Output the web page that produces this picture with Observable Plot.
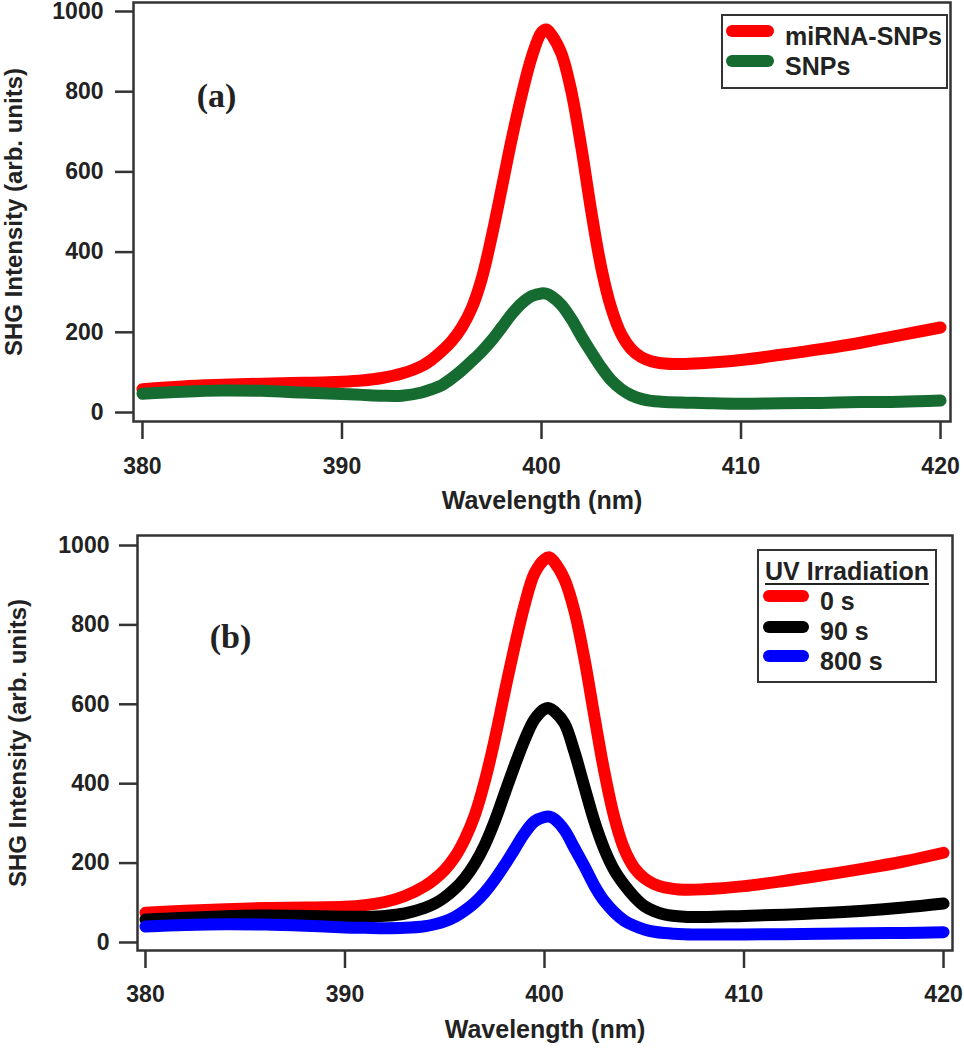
<!DOCTYPE html>
<html><head><meta charset="utf-8">
<script src="https://cdn.jsdelivr.net/npm/d3@7"></script>
<script src="https://cdn.jsdelivr.net/npm/@observablehq/plot@0.6"></script>
<style>
body{margin:0;background:#fff;}
#wrap{position:relative;width:964px;height:1050px;font-family:"Liberation Sans",Arial,sans-serif;color:#222;}
#wrap svg{display:block}
.box{position:absolute;border:2px solid #333;background:#fff;box-sizing:border-box;}
.sw{position:absolute;height:12px;border-radius:6px;}
.lt{position:absolute;font-weight:bold;line-height:1;white-space:nowrap;}
</style></head><body><div id="wrap"></div>
<script>
// shared wavelength grid (nm)
const wavelength = [380,382,384,386,388,390,391,392,393,394,394.5,395,395.5,396,396.5,397,397.5,398,398.5,399,399.5,400,400.25,400.5,401,401.5,402,402.5,403,403.5,404,404.5,405,405.5,406,407,408,410,412,414,416,418,420];
// panel (a)
const miRNA_SNPs = [58,65,69,72,74,77,80,86,97,116,132,153,178,212,260,333,438,558,680,790,885,948,955,942,895,800,660,500,360,260,195,158,138,128,123,121,123,131,144,158,174,193,212];
const SNPs = [47,52,55,54,50,46,44,42,42,50,58,68,85,105,128,152,180,212,245,272,290,297,296,290,268,233,190,150,112,80,58,43,34,29,27,25,24,22,23,24,26,27,30];
// panel (b) UV irradiation
const uv_0s = [75,80,84,87,88,90,94,102,117,142,160,183,215,260,320,405,510,630,745,850,930,965,970,958,915,835,715,570,430,315,235,188,162,147,139,133,134,142,155,170,186,204,226];
const uv_90s = [58,62,66,68,67,65,65,67,73,87,98,114,135,162,198,245,305,375,445,510,562,588,590,582,552,480,392,305,235,182,145,115,92,79,71,65,64,67,70,74,80,88,98];
const uv_800s = [40,44,46,45,42,38,37,36,37,41,46,53,64,80,100,126,158,195,235,275,305,316,317,311,283,238,192,143,104,76,55,42,33,27,24,21,20,20,21,22,23,24,26];

const xTicks = [380,390,400,410,420];
const yTicks = [0,200,400,600,800,1000];
const xLabel = "Wavelength (nm)";
const yLabel = "SHG Intensity (arb. units)";

const toRows = vals => wavelength.map((w,i)=>({w, v: vals[i]}));

function panel({series, xdom, ydom, m, height, tag, tagDx, tagDy, yPad, xPad}) {
  const lines = series.map(s => Plot.line(toRows(s.values), {x:"w", y:"v", stroke:s.color, strokeWidth:12, curve:"catmull-rom", strokeLinecap:"round", strokeLinejoin:"round"}));
  return Plot.plot({
    width: 964, height,
    marginTop: m[0], marginRight: m[1], marginBottom: m[2], marginLeft: m[3],
    style: {fontFamily: "Liberation Sans, Arial, sans-serif", fontSize: "23px", fontWeight: "bold", color: "#222", background: "#fff", overflow: "visible"},
    x: {domain: xdom},
    y: {domain: ydom},
    marks: [
      ...lines,
      Plot.frame({stroke: "#333", strokeWidth: 2.5}),
      Plot.axisX({ticks: xTicks, tickSize: 18, tickPadding: xPad, tickFormat: d => String(d), strokeWidth: 2.5, stroke: "#333", fontSize: 23, fontWeight: "bold", label: null}),
      Plot.axisY({ticks: yTicks, tickSize: 18, tickPadding: yPad, tickFormat: d => String(d), strokeWidth: 2.5, stroke: "#333", fontSize: 23, fontWeight: "bold", label: null}),
      Plot.text([xLabel], {frameAnchor: "bottom", dy: 79, lineAnchor: "middle", textAnchor: "middle", fontSize: 25, fontWeight: "bold", fill: "#222"}),
      Plot.text([yLabel], {frameAnchor: "left", dx: -119, rotate: -90, textAnchor: "middle", lineAnchor: "middle", fontSize: 24, fontWeight: "bold", fill: "#222"}),
      Plot.text([tag], {frameAnchor: "top-left", dx: tagDx, dy: tagDy, textAnchor: "middle", lineAnchor: "middle", fontSize: 34, fontWeight: "bold", fontFamily: "Liberation Serif, Times New Roman, serif", fill: "#222"})
    ]
  });
}

const wrap = document.getElementById("wrap");
wrap.appendChild(panel({
  series: [{values: miRNA_SNPs, color: "#ff0000"}, {values: SNPs, color: "#166b30"}],
  xdom: [379.55, 420.5], ydom: [-22.4, 1022.4], m: [2, 14, 99, 133], height: 520,
  tag: "(a)", tagDx: 83, tagDy: 94, yPad: 12, xPad: 18
}));
wrap.appendChild(panel({
  series: [{values: uv_0s, color: "#ff0000"}, {values: uv_90s, color: "#000000"}, {values: uv_800s, color: "#0000ff"}],
  xdom: [379.6, 420.45], ydom: [-20.2, 1025.2], m: [15, 12, 100, 137], height: 530,
  tag: "(b)", tagDx: 93, tagDy: 102, yPad: 10, xPad: 17
}));

// legends (HTML overlay)
const legendA = [{name: "miRNA-SNPs", color: "#ff0000"}, {name: "SNPs", color: "#166b30"}];
const legendB = [{name: "0 s", color: "#ff0000"}, {name: "90 s", color: "#000000"}, {name: "800 s", color: "#0000ff"}];
const legendBTitle = "UV Irradiation";

function el(cls, css, text) {
  const d = document.createElement("div");
  d.className = cls; Object.assign(d.style, css);
  if (text != null) d.textContent = text;
  wrap.appendChild(d); return d;
}
el("box", {left: "721px", top: "14px", width: "227px", height: "75px"});
legendA.forEach((d, i) => {
  el("sw", {left: "726px", top: (25 + 30 * i) + "px", width: "48px", background: d.color});
  el("lt", {left: "785px", top: (24 + 30 * i) + "px", fontSize: "25px"}, d.name);
});
el("box", {left: "757px", top: "549px", width: "180px", height: "134px"});
el("lt", {left: "757px", top: "559px", width: "180px", textAlign: "center", fontSize: "25px", textDecoration: "underline", textDecorationThickness: "2px", textUnderlineOffset: "3px"}, legendBTitle);
legendB.forEach((d, i) => {
  el("sw", {left: "763px", top: [590, 621, 650][i] + "px", width: "46px", background: d.color});
  el("lt", {left: "820px", top: [589, 619, 649][i] + "px", fontSize: "25px"}, d.name);
});
</script></body></html>
